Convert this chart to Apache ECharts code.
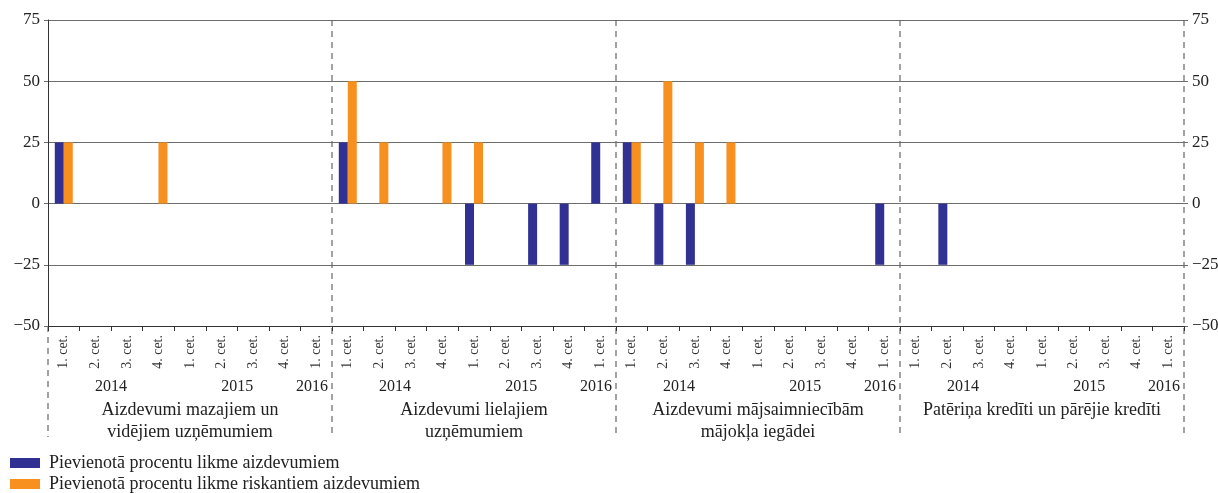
<!DOCTYPE html>
<html>
<head>
<meta charset="utf-8">
<script src="https://cdn.jsdelivr.net/npm/echarts@6/dist/echarts.min.js"></script>
<style>
  html, body { margin: 0; padding: 0; background: #fff; }
  #main { width: 1218px; height: 493px; }
</style>
</head>
<body>
<div id="main"></div>
<script>
// ceturkšņi vienā grupā: 2014 1.-4., 2015 1.-4., 2016 1.
var quarterLabels = ['1. cet.', '2. cet.', '3. cet.', '4. cet.', '1. cet.', '2. cet.', '3. cet.', '4. cet.', '1. cet.'];
var groupNames = [
    'Aizdevumi mazajiem un\nvidējiem uzņēmumiem',
    'Aizdevumi lielajiem\nuzņēmumiem',
    'Aizdevumi mājsaimniecībām\nmājokļa iegādei',
    'Patēriņa kredīti un pārējie kredīti'
];
var yearLabels = ['2014', '2015', '2016'];
var seriesNames = ['Pievienotā procentu likme aizdevumiem', 'Pievienotā procentu likme riskantiem aizdevumiem'];

var baseValues = [
    25, 0, 0, 0, 0, 0, 0, 0, 0,
    25, 0, 0, 0, -25, 0, -25, -25, 25,
    25, -25, -25, 0, 0, 0, 0, 0, -25,
    0, -25, 0, 0, 0, 0, 0, 0, 0
];
var riskyValues = [
    25, 0, 0, 25, 0, 0, 0, 0, 0,
    50, 25, 0, 25, 25, 0, 0, 0, 0,
    25, 50, 25, 25, 0, 0, 0, 0, 0,
    0, 0, 0, 0, 0, 0, 0, 0, 0
];
var yTicks = [-50, -25, 0, 25, 50, 75];

var categories = [];
groupNames.forEach(function(g) {
    quarterLabels.forEach(function(q) {
        categories.push(q);
    });
});

var font = '"Liberation Serif", "DejaVu Serif", serif';
var gridColor = '#6d6d6d';

function fmtY(v) {
    return String(v).replace('-', '\u2212');
}

var myChart = echarts.init(document.getElementById('main'));
var option = {
    backgroundColor: '#fff',
    animation: false,
    textStyle: { fontFamily: font },
    grid: { left: 48, right: 34, top: 20, bottom: 167, containLabel: false, outerBoundsMode: 'none' },
    legend: {
        orient: 'vertical',
        left: 10,
        top: 454,
        padding: 0,
        itemWidth: 30,
        itemHeight: 10,
        itemGap: 3,
        icon: 'rect',
        align: 'left',
        textStyle: { fontFamily: font, fontSize: 18, color: '#222', padding: [0, 0, 0, 4] },
        data: seriesNames
    },
    xAxis: {
        type: 'category',
        data: categories,
        boundaryGap: true,
        axisLine: { onZero: false, lineStyle: { color: '#333', width: 1 } },
        axisTick: { show: true, interval: 0, length: 5, lineStyle: { color: '#333' } },
        axisLabel: {
            interval: 0,
            rotate: 90,
            margin: 9,
            fontFamily: font,
            fontSize: 14,
            color: '#333'
        },
        splitLine: { show: false }
    },
    yAxis: [{
        type: 'value',
        min: yTicks[0],
        max: yTicks[yTicks.length - 1],
        interval: 25,
        position: 'left',
        axisLine: { show: true, lineStyle: { color: '#333', width: 1 } },
        axisTick: { show: true, length: 4, lineStyle: { color: gridColor } },
        axisLabel: { fontFamily: font, fontSize: 17, color: '#222', margin: 8, formatter: fmtY },
        splitLine: { show: true, lineStyle: { color: gridColor, width: 1 } }
    }, {
        type: 'value',
        min: yTicks[0],
        max: yTicks[yTicks.length - 1],
        interval: 25,
        position: 'right',
        axisLine: { show: false },
        axisTick: { show: true, length: 4, lineStyle: { color: gridColor } },
        axisLabel: { fontFamily: font, fontSize: 17, color: '#222', margin: 8, formatter: fmtY },
        splitLine: { show: false }
    }],
    series: [{
        name: seriesNames[0],
        type: 'bar',
        data: baseValues,
        barWidth: 9,
        barGap: '0%',
        itemStyle: { color: '#303193' }
    }, {
        name: seriesNames[1],
        type: 'bar',
        data: riskyValues,
        barWidth: 9,
        itemStyle: { color: '#f7901e' }
    }]
};
myChart.setOption(option);

// grupu atdalītāji un teksti zem ass
var c0 = myChart.convertToPixel({ xAxisIndex: 0 }, 0);
var c1 = myChart.convertToPixel({ xAxisIndex: 0 }, 1);
var step = c1 - c0;
function edge(i) { return c0 - step / 2 + i * step; }
var yTop = myChart.convertToPixel({ yAxisIndex: 0 }, yTicks[yTicks.length - 1]);
var yBot = myChart.convertToPixel({ yAxisIndex: 0 }, yTicks[0]);
var dashStyle = { stroke: '#666', lineWidth: 1.2, lineDash: [6, 5] };

var graphics = [];
// kreisā mala: tikai zem ass
graphics.push({ type: 'line', shape: { x1: edge(0), y1: yBot, x2: edge(0), y2: yBot + 111 }, style: dashStyle, silent: true });
for (var g = 1; g <= groupNames.length; g++) {
    graphics.push({ type: 'line', shape: { x1: edge(g * 9), y1: yTop, x2: edge(g * 9), y2: yBot + 111 }, style: dashStyle, silent: true });
}
groupNames.forEach(function(name, gi) {
    var s = gi * 9;
    var yearStyle = { fill: '#222', font: '16px ' + font, textVerticalAlign: 'middle' };
    graphics.push({ type: 'text', x: edge(s + 2), y: yBot + 61, style: Object.assign({ text: yearLabels[0], textAlign: 'center' }, yearStyle), silent: true });
    graphics.push({ type: 'text', x: edge(s + 6), y: yBot + 61, style: Object.assign({ text: yearLabels[1], textAlign: 'center' }, yearStyle), silent: true });
    graphics.push({ type: 'text', x: edge(s + 9) - 4, y: yBot + 61, style: Object.assign({ text: yearLabels[2], textAlign: 'right' }, yearStyle), silent: true });
    graphics.push({
        type: 'text',
        x: (edge(s) + edge(s + 9)) / 2,
        y: yBot + 73,
        style: { text: name, textAlign: 'center', textVerticalAlign: 'top', fill: '#222', font: '18px ' + font, lineHeight: 22 },
        silent: true
    });
});
myChart.setOption({ graphic: graphics });
</script>
</body>
</html>
